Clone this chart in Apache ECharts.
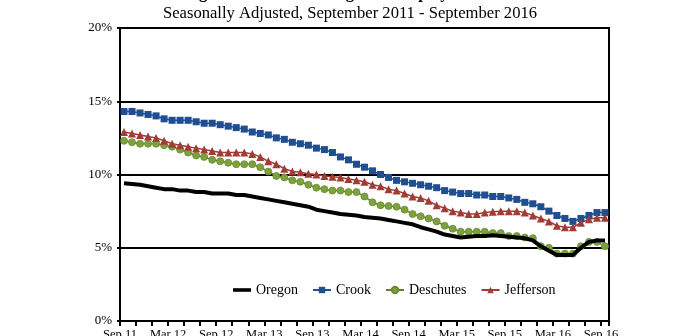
<!DOCTYPE html>
<html>
<head>
<meta charset="utf-8">
<script src="https://cdn.jsdelivr.net/npm/echarts@6/dist/echarts.min.js"></script>
<style>html,body{margin:0;padding:0;background:#fff;}#c{width:700px;height:336px;}</style>
</head>
<body>
<div id="c"></div>
<script>
const titleLine1 = 'Oregon and Central Oregon Unemployment Rates';
const titleLine2 = 'Seasonally Adjusted, September 2011 - September 2016';

const months = [
  'Sep 11','Oct 11','Nov 11','Dec 11','Jan 12','Feb 12','Mar 12','Apr 12','May 12','Jun 12','Jul 12','Aug 12',
  'Sep 12','Oct 12','Nov 12','Dec 12','Jan 13','Feb 13','Mar 13','Apr 13','May 13','Jun 13','Jul 13','Aug 13',
  'Sep 13','Oct 13','Nov 13','Dec 13','Jan 14','Feb 14','Mar 14','Apr 14','May 14','Jun 14','Jul 14','Aug 14',
  'Sep 14','Oct 14','Nov 14','Dec 14','Jan 15','Feb 15','Mar 15','Apr 15','May 15','Jun 15','Jul 15','Aug 15',
  'Sep 15','Oct 15','Nov 15','Dec 15','Jan 16','Feb 16','Mar 16','Apr 16','May 16','Jun 16','Jul 16','Aug 16',
  'Sep 16'
];

const oregon = [
  9.4, 9.35, 9.3, 9.2, 9.1, 9.0, 9.0, 8.9, 8.9, 8.8, 8.8, 8.7,
  8.7, 8.7, 8.6, 8.6, 8.5, 8.4, 8.3, 8.2, 8.1, 8.0, 7.9, 7.8,
  7.6, 7.5, 7.4, 7.3, 7.25, 7.2, 7.1, 7.05, 7.0, 6.9, 6.8, 6.7,
  6.6, 6.4, 6.25, 6.1, 5.9, 5.8, 5.7, 5.75, 5.8, 5.8, 5.85, 5.8,
  5.75, 5.7, 5.65, 5.5, 5.1, 4.8, 4.5, 4.5, 4.5, 5.0, 5.4, 5.5,
  5.5
];

const crook = [
  14.3, 14.3, 14.2, 14.1, 14.0, 13.8, 13.7, 13.7, 13.7, 13.6, 13.5, 13.5,
  13.4, 13.3, 13.2, 13.1, 12.9, 12.8, 12.7, 12.5, 12.4, 12.2, 12.1, 12.0,
  11.8, 11.7, 11.5, 11.2, 11.0, 10.7, 10.5, 10.25, 10.0, 9.8, 9.6, 9.5,
  9.4, 9.3, 9.2, 9.1, 8.9, 8.8, 8.7, 8.7, 8.6, 8.6, 8.5, 8.5,
  8.4, 8.3, 8.1, 8.0, 7.8, 7.5, 7.2, 7.0, 6.8, 7.0, 7.2, 7.4,
  7.4
];

const deschutes = [
  12.3, 12.2, 12.1, 12.1, 12.1, 12.0, 11.9, 11.7, 11.5, 11.3, 11.2, 11.0,
  10.9, 10.8, 10.7, 10.7, 10.7, 10.5, 10.2, 9.9, 9.8, 9.6, 9.5, 9.3,
  9.1, 9.0, 8.9, 8.9, 8.8, 8.8, 8.5, 8.1, 7.9, 7.85, 7.8, 7.6,
  7.3, 7.15, 7.0, 6.8, 6.5, 6.3, 6.1, 6.1, 6.1, 6.1, 6.0, 6.0,
  5.8, 5.8, 5.7, 5.65, 5.1, 5.0, 4.6, 4.6, 4.6, 5.1, 5.4, 5.4,
  5.1
];

const jefferson = [
  12.9, 12.8, 12.7, 12.6, 12.5, 12.3, 12.1, 12.0, 11.9, 11.8, 11.7, 11.6,
  11.5, 11.5, 11.5, 11.5, 11.4, 11.2, 10.9, 10.7, 10.4, 10.2, 10.15, 10.05,
  10.0, 9.9, 9.85, 9.8, 9.7, 9.6, 9.5, 9.3, 9.2, 9.0, 8.9, 8.7,
  8.5, 8.4, 8.2, 7.9, 7.7, 7.5, 7.4, 7.3, 7.3, 7.4, 7.45, 7.5,
  7.5, 7.5, 7.4, 7.2, 7.0, 6.8, 6.5, 6.4, 6.4, 6.7, 6.95, 7.05,
  7.05
];

const yTicks = [0, 5, 10, 15, 20];

const serif = '"Liberation Serif", "DejaVu Serif", serif';
const chart = echarts.init(document.getElementById('c'), null, {renderer: 'canvas'});
chart.setOption({
  animation: false,
  backgroundColor: '#fff',
  title: [
    {text: titleLine1, left: 'center', top: -15, padding: 0,
     textStyle: {fontFamily: serif, fontSize: 16.6, fontWeight: 'bold', color: '#000'}},
    {text: titleLine2, left: 'center', top: 5, padding: 0,
     textStyle: {fontFamily: serif, fontSize: 16.6, fontWeight: 'normal', color: '#000'}}
  ],
  legend: {
    left: 233, top: 283, padding: 0,
    itemWidth: 18, itemHeight: 8, itemGap: 14,
    textStyle: {fontFamily: serif, fontSize: 14, color: '#000'},
    data: [
      {name: 'Oregon', icon: 'path://M0,0 L20,0 L20,4 L0,4 Z'},
      'Crook', 'Deschutes', 'Jefferson'
    ]
  },
  grid: {left: 120, right: 91, top: 28, bottom: 15, containLabel: false, outerBoundsMode: 'none',
         show: true, borderColor: '#000', borderWidth: 2, backgroundColor: 'transparent'},
  xAxis: {
    type: 'category', data: months, boundaryGap: true,
    axisLine: {lineStyle: {color: '#000', width: 2}},
    axisTick: {show: true, interval: 1, length: 5, lineStyle: {color: '#000', width: 2}},
    axisLabel: {interval: 5, margin: 7, fontFamily: serif, fontSize: 12.5, color: '#000', padding: [0, 8, 0, 0]},
    splitLine: {show: false}
  },
  yAxis: {
    type: 'value', min: yTicks[0], max: yTicks[yTicks.length - 1], interval: 5,
    axisLine: {show: true, lineStyle: {color: '#000', width: 2}},
    axisTick: {show: true, length: 3, lineStyle: {color: '#000', width: 2}},
    axisLabel: {formatter: '{value}%', margin: 8, fontFamily: serif, fontSize: 13, color: '#000'},
    splitLine: {show: true, lineStyle: {color: '#000', width: 2}}
  },
  series: [
    {name: 'Oregon', type: 'line', data: oregon, symbol: 'none', showSymbol: false,
     lineStyle: {color: '#000', width: 4}, itemStyle: {color: '#000'}, z: 5},
    {name: 'Crook', type: 'line', data: crook, symbol: 'rect', symbolSize: 7, showAllSymbol: true,
     lineStyle: {color: '#1F4E91', width: 1.5}, itemStyle: {color: '#1F4E91'}},
    {name: 'Deschutes', type: 'line', data: deschutes, symbol: 'circle', symbolSize: 7, showAllSymbol: true,
     lineStyle: {color: '#5E7E2A', width: 1.5}, itemStyle: {color: '#7DA23C', borderColor: '#6A8B30', borderWidth: 0.8}},
    {name: 'Jefferson', type: 'line', data: jefferson, symbol: 'triangle', symbolSize: 8, showAllSymbol: true,
     lineStyle: {color: '#A33B35', width: 1.5}, itemStyle: {color: '#A33B35'}}
  ]
});
</script>
</body>
</html>
